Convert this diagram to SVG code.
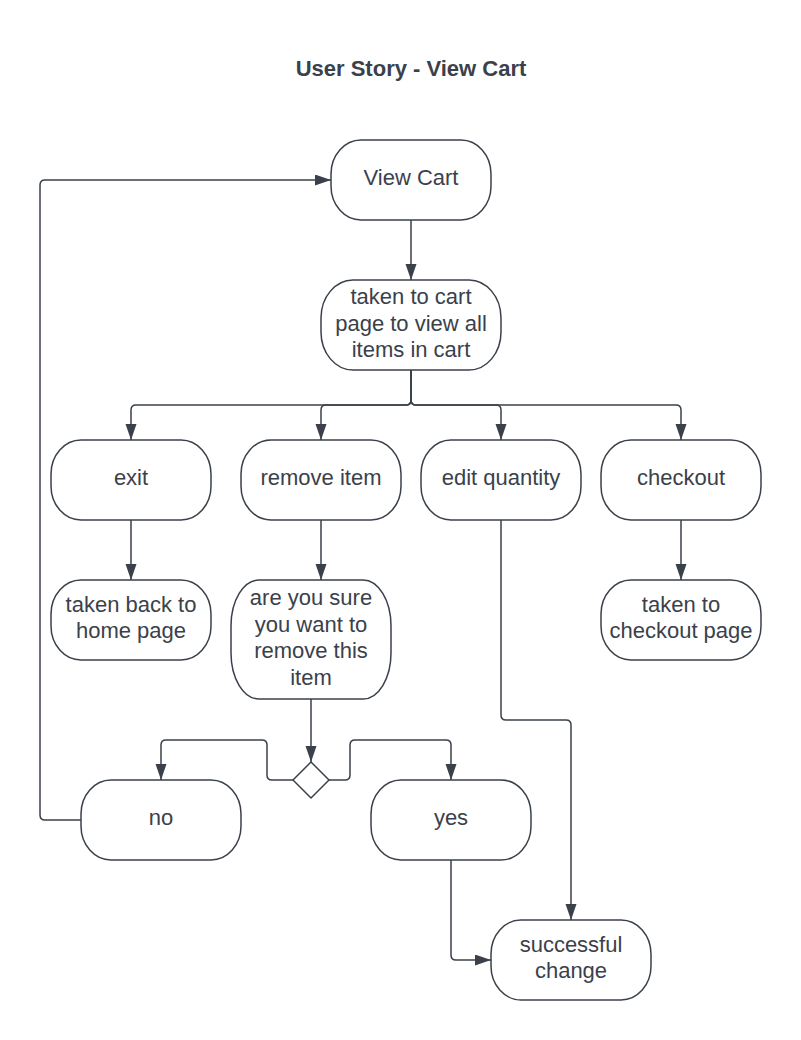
<svg xmlns="http://www.w3.org/2000/svg" width="801" height="1040" viewBox="0 0 801 1040">
<style>
.box{fill:#ffffff;stroke:#3a414a;stroke-width:1.5}
.t{font-family:"Liberation Sans",Arial,sans-serif;font-size:22px;fill:#3a414a;text-anchor:middle}
.title{font-family:"Liberation Sans",Arial,sans-serif;font-size:22px;font-weight:bold;fill:#3a414a;text-anchor:middle}
.c{fill:none;stroke:#3a414a;stroke-width:1.5}
</style>
<defs>
<marker id="ah" markerUnits="userSpaceOnUse" markerWidth="17" markerHeight="12" refX="16" refY="5.5" orient="auto">
<path d="M0,0 L16,5.5 L0,11 Z" fill="#3a414a"/>
</marker>
</defs>
<rect width="801" height="1040" fill="#ffffff"/>
<text class="title" x="411" y="76">User Story - View Cart</text>

<g id="connectors">
<path class="c" d="M411,220 V280" marker-end="url(#ah)"/>
<path class="c" d="M411,370 V400 Q411,405 406,405 H136 Q131,405 131,410 V440" marker-end="url(#ah)"/>
<path class="c" d="M411,370 V400 Q411,405 406,405 H326 Q321,405 321,410 V440" marker-end="url(#ah)"/>
<path class="c" d="M411,370 V400 Q411,405 416,405 H496 Q501,405 501,410 V440" marker-end="url(#ah)"/>
<path class="c" d="M411,370 V400 Q411,405 416,405 H676 Q681,405 681,410 V440" marker-end="url(#ah)"/>
<path class="c" d="M131,520 V580" marker-end="url(#ah)"/>
<path class="c" d="M321,520 V580" marker-end="url(#ah)"/>
<path class="c" d="M681,520 V580" marker-end="url(#ah)"/>
<path class="c" d="M311,699 V762" marker-end="url(#ah)"/>
<path class="c" d="M293,780 H272 Q267,780 267,775 V745 Q267,740 262,740 H166 Q161,740 161,745 V780" marker-end="url(#ah)"/>
<path class="c" d="M329,780 H345 Q350,780 350,775 V745 Q350,740 355,740 H446 Q451,740 451,745 V780" marker-end="url(#ah)"/>
<path class="c" d="M81,820 H45 Q40,820 40,815 V185 Q40,180 45,180 H331" marker-end="url(#ah)"/>
<path class="c" d="M451,860 V955 Q451,960 456,960 H491" marker-end="url(#ah)"/>
<path class="c" d="M501,520 V715 Q501,720 506,720 H566 Q571,720 571,725 V920" marker-end="url(#ah)"/>
</g>

<g id="view-cart">
<rect class="box" x="331" y="140" width="160" height="80" rx="30" ry="34"/>
<text class="t" x="411" y="185">View Cart</text>
</g>
<g id="cart-page">
<rect class="box" x="321" y="280" width="180" height="90" rx="32" ry="38"/>
<text class="t" x="411" y="304">taken to cart</text>
<text class="t" x="411" y="331">page to view all</text>
<text class="t" x="411" y="357">items in cart</text>
</g>
<g id="exit">
<rect class="box" x="51" y="440" width="160" height="80" rx="30" ry="34"/>
<text class="t" x="131" y="485">exit</text>
</g>
<g id="remove-item">
<rect class="box" x="241" y="440" width="160" height="80" rx="30" ry="34"/>
<text class="t" x="321" y="485">remove item</text>
</g>
<g id="edit-quantity">
<rect class="box" x="421" y="440" width="160" height="80" rx="30" ry="34"/>
<text class="t" x="501" y="485">edit quantity</text>
</g>
<g id="checkout">
<rect class="box" x="601" y="440" width="160" height="80" rx="30" ry="34"/>
<text class="t" x="681" y="485">checkout</text>
</g>
<g id="home-page">
<rect class="box" x="51" y="580" width="160" height="80" rx="30" ry="34"/>
<text class="t" x="131" y="612">taken back to</text>
<text class="t" x="131" y="638">home page</text>
</g>
<g id="are-you-sure">
<rect class="box" x="231" y="580" width="160" height="119" rx="28" ry="46"/>
<text class="t" x="311" y="605">are you sure</text>
<text class="t" x="311" y="632">you want to</text>
<text class="t" x="311" y="658">remove this</text>
<text class="t" x="311" y="685">item</text>
</g>
<g id="checkout-page">
<rect class="box" x="601" y="580" width="160" height="80" rx="30" ry="34"/>
<text class="t" x="681" y="612">taken to</text>
<text class="t" x="681" y="638">checkout page</text>
</g>
<g id="decision">
<path class="box" d="M311,762 L329,780 L311,798 L293,780 Z" stroke-linejoin="round"/>
</g>
<g id="no">
<rect class="box" x="81" y="780" width="160" height="80" rx="30" ry="34"/>
<text class="t" x="161" y="825">no</text>
</g>
<g id="yes">
<rect class="box" x="371" y="780" width="160" height="80" rx="30" ry="34"/>
<text class="t" x="451" y="825">yes</text>
</g>
<g id="successful-change">
<rect class="box" x="491" y="920" width="160" height="80" rx="30" ry="34"/>
<text class="t" x="571" y="952">successful</text>
<text class="t" x="571" y="978">change</text>
</g>
</svg>
